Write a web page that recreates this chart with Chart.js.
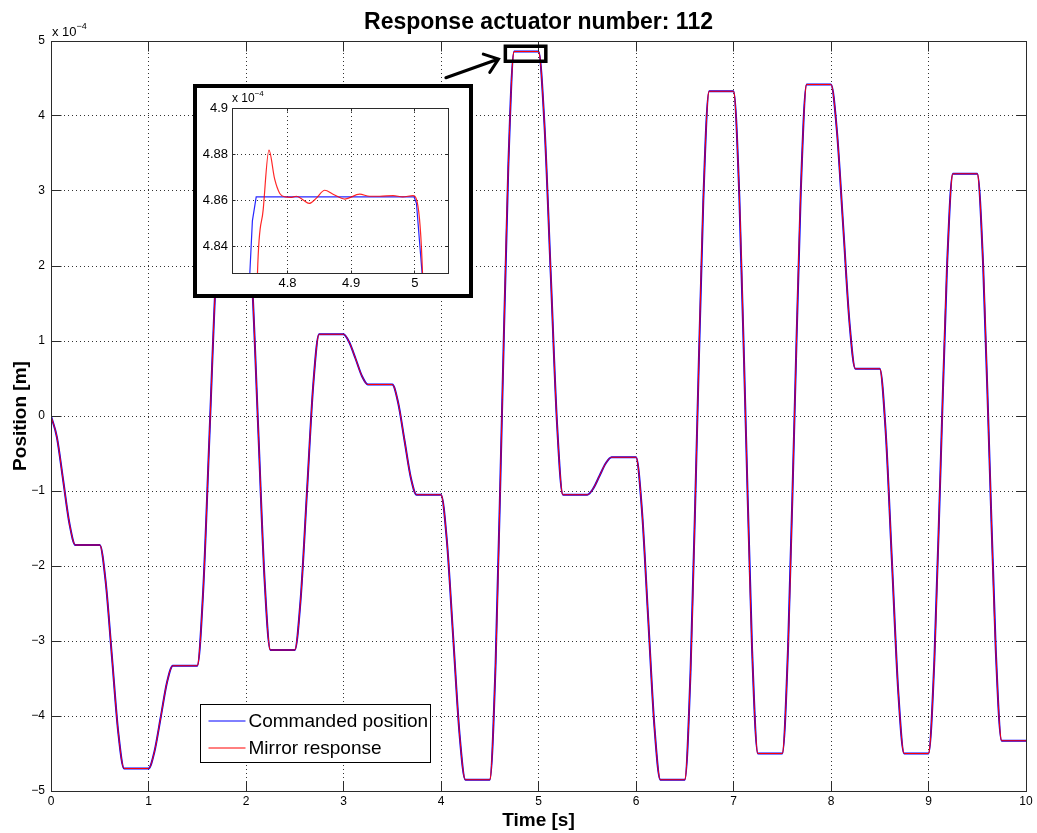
<!DOCTYPE html>
<html>
<head>
<meta charset="utf-8">
<title>Response actuator number: 112</title>
<script src="https://cdn.jsdelivr.net/npm/chart.js@4.4.1/dist/chart.umd.min.js"></script>
<style>
    html, body { margin: 0; padding: 0; background: #fff; }
    #wrap { position: relative; width: 1037px; height: 833px; }
    #mainChart { position: absolute; left: 0; top: 0; }
    #insetBox { position: absolute; left: 193px; top: 84px; width: 280px; height: 214px; box-sizing: border-box; border: 4px solid #000; background: #fff; }
    #insetChart { position: absolute; left: 0; top: 0; }
</style>
</head>
<body>
<div id="wrap">
    <canvas id="mainChart" width="1037" height="833"></canvas>
    <div id="insetBox"><canvas id="insetChart" width="272" height="206"></canvas></div>
</div>
<script>
// Dati (posizioni in unita' di 1e-4 m)
const timeS = [
    0, 0.06, 0.125, 0.19, 0.25,
    0.5, 0.56, 0.625, 0.69, 0.75,
    1, 1.06, 1.125, 1.19, 1.25,
    1.5, 1.56, 1.625, 1.69, 1.75,
    2, 2.06, 2.125, 2.19, 2.25,
    2.5, 2.56, 2.625, 2.69, 2.75,
    3, 3.06, 3.125, 3.19, 3.25,
    3.5, 3.56, 3.625, 3.69, 3.75,
    4, 4.06, 4.125, 4.19, 4.25,
    4.5, 4.56, 4.625, 4.69, 4.75,
    5, 5.06, 5.125, 5.19, 5.25,
    5.5, 5.56, 5.625, 5.69, 5.75,
    6, 6.06, 6.125, 6.19, 6.25,
    6.5, 6.56, 6.625, 6.69, 6.75,
    7, 7.06, 7.125, 7.19, 7.25,
    7.5, 7.56, 7.625, 7.69, 7.75,
    8, 8.06, 8.125, 8.19, 8.25,
    8.5, 8.56, 8.625, 8.69, 8.75,
    9, 9.06, 9.125, 9.19, 9.25,
    9.5, 9.56, 9.625, 9.69, 9.75,
    10
];
const commandedPos = [
    0, -0.28, -0.86, -1.44, -1.72,
    -1.72, -2.20, -3.21, -4.22, -4.70,
    -4.70, -4.48, -4.02, -3.55, -3.33,
    -3.33, -2.35, -0.27, 1.82, 2.80,
    2.80, 1.85, -0.16, -2.17, -3.12,
    -3.12, -2.45, -1.02, 0.42, 1.09,
    1.09, 0.98, 0.76, 0.53, 0.42,
    0.42, 0.18, -0.32, -0.82, -1.05,
    -1.05, -1.66, -2.95, -4.24, -4.85,
    -4.85, -3.30, 0.01, 3.31, 4.86,
    4.86, 3.91, 1.91, -0.10, -1.05,
    -1.05, -0.97, -0.80, -0.63, -0.55,
    -0.55, -1.24, -2.70, -4.16, -4.85,
    -4.85, -3.38, -0.26, 2.86, 4.33,
    4.33, 2.92, -0.09, -3.09, -4.50,
    -4.50, -3.07, -0.04, 2.99, 4.42,
    4.42, 3.81, 2.53, 1.24, 0.63,
    0.63, -0.19, -1.94, -3.68, -4.50,
    -4.50, -3.26, -0.64, 1.99, 3.23,
    3.23, 2.02, -0.55, -3.12, -4.33,
    -4.33
];
// a scala piena la risposta dello specchio coincide con il comando
const mirrorResponse = commandedPos;

const xTicks = [0, 1, 2, 3, 4, 5, 6, 7, 8, 9, 10];
const yTicks = [-5, -4, -3, -2, -1, 0, 1, 2, 3, 4, 5];

// Dati dello zoom (riquadro interno)
const insetCmdTime = [4.736, 4.741, 4.745, 4.751, 4.9988, 5.0025, 5.0113, 5.014];
const insetCmdPos = [4.80, 4.8284, 4.851, 4.8614, 4.8614, 4.8586, 4.8284, 4.81];
const insetRespTime = [4.751, 4.753, 4.762, 4.771, 4.780, 4.788, 4.797, 4.805, 4.814, 4.824, 4.834, 4.8455,
    4.8585, 4.8716, 4.890, 4.9135, 4.929, 4.945, 4.966, 4.981, 4.997, 5.0035, 5.012, 5.0135];
const insetRespPos = [4.80, 4.8284, 4.856, 4.8817, 4.8691, 4.8629, 4.8614, 4.8612, 4.8617, 4.8602, 4.8586, 4.8609,
    4.8643, 4.8626, 4.8605, 4.8626, 4.8617, 4.8617, 4.862, 4.8614, 4.862, 4.8594, 4.8284, 4.81];
const insetXTicks = [4.8, 4.9, 5];
const insetYTicks = [4.84, 4.86, 4.88, 4.9];

// Riquadro evidenziato e freccia (coordinate dati)
const zoomBoxTime = [4.66, 5.075];
const zoomBoxPos = [4.73, 4.93];
const arrowTime = [4.05, 4.59];
const arrowPos = [4.51, 4.76];

const FONT = "'Liberation Sans', Arial, Helvetica, sans-serif";

document.addEventListener("DOMContentLoaded", function () {
    Chart.defaults.font.family = FONT;
    Chart.defaults.color = "#000";
    renderMainChart();
    renderInsetChart();
});

function toPoints(xs, ys) {
    return xs.map((x, i) => ({ x: x, y: ys[i] }));
}

function crisp(v) {
    return Math.round(v - 0.5) + 0.5;
}

function minusLabel(v) {
    return v < 0 ? "\u2212" + (-v) : String(v);
}

// Cornice degli assi con tacche interne (stile MATLAB)
function drawAxesBox(chart, tickLen) {
    const { ctx, chartArea: a, scales } = chart;
    const l = crisp(a.left), r = crisp(a.right), t = crisp(a.top), b = crisp(a.bottom);
    ctx.save();
    ctx.setLineDash([]);
    ctx.strokeStyle = "#2b2b2b";
    ctx.lineWidth = 1;
    ctx.beginPath();
    scales.x.ticks.forEach(tk => {
        const px = crisp(scales.x.getPixelForValue(tk.value));
        ctx.moveTo(px, b); ctx.lineTo(px, b - tickLen);
        ctx.moveTo(px, t); ctx.lineTo(px, t + tickLen);
    });
    scales.y.ticks.forEach(tk => {
        const py = crisp(scales.y.getPixelForValue(tk.value));
        ctx.moveTo(l, py); ctx.lineTo(l + tickLen, py);
        ctx.moveTo(r, py); ctx.lineTo(r - tickLen, py);
    });
    ctx.stroke();
    ctx.strokeRect(l, t, r - l, b - t);
    ctx.restore();
}

// Etichetta "x 10^-4" sopra l'asse y
function drawExponent(ctx, x, y, size, supSize, rise) {
    ctx.save();
    ctx.fillStyle = "#000";
    ctx.textAlign = "left";
    ctx.textBaseline = "alphabetic";
    ctx.font = size + "px " + FONT;
    ctx.fillText("x 10", x, y);
    const w = ctx.measureText("x 10").width;
    ctx.font = supSize + "px " + FONT;
    ctx.fillText("\u22124", x + w, y - rise);
    ctx.restore();
}

const mainDecorations = {
    id: "mainDecorations",
    afterDatasetsDraw(chart) {
        drawAxesBox(chart, 10);
    },
    afterDraw(chart) {
        const { ctx, chartArea: a, scales } = chart;
        const cx = (a.left + a.right) / 2;
        ctx.save();
        ctx.fillStyle = "#000";

        // titolo ed etichette assi
        ctx.textAlign = "center";
        ctx.textBaseline = "alphabetic";
        ctx.font = "bold 23px " + FONT;
        ctx.fillText("Response actuator number: 112", cx, 29);
        ctx.font = "bold 19px " + FONT;
        ctx.fillText("Time [s]", cx, 826);
        ctx.save();
        ctx.translate(26, (a.top + a.bottom) / 2);
        ctx.rotate(-Math.PI / 2);
        ctx.fillText("Position [m]", 0, 0);
        ctx.restore();

        drawExponent(ctx, 52, 36, 13, 9, 7);

        // riquadro sul picco e freccia
        const x1 = scales.x.getPixelForValue(zoomBoxTime[0]);
        const x2 = scales.x.getPixelForValue(zoomBoxTime[1]);
        const y1 = scales.y.getPixelForValue(zoomBoxPos[1]);
        const y2 = scales.y.getPixelForValue(zoomBoxPos[0]);
        ctx.strokeStyle = "#000";
        ctx.lineWidth = 3.5;
        ctx.strokeRect(x1, y1, x2 - x1, y2 - y1);

        const ax = scales.x.getPixelForValue(arrowTime[0]);
        const ay = scales.y.getPixelForValue(arrowPos[0]);
        const bx = scales.x.getPixelForValue(arrowTime[1]);
        const by = scales.y.getPixelForValue(arrowPos[1]);
        const ang = Math.atan2(ay - by, ax - bx);
        ctx.lineWidth = 3;
        ctx.lineCap = "round";
        ctx.lineJoin = "miter";
        ctx.beginPath();
        ctx.moveTo(ax, ay);
        ctx.lineTo(bx, by);
        ctx.moveTo(bx + 16 * Math.cos(ang + 0.65), by + 16 * Math.sin(ang + 0.65));
        ctx.lineTo(bx, by);
        ctx.lineTo(bx + 16 * Math.cos(ang - 0.65), by + 16 * Math.sin(ang - 0.65));
        ctx.stroke();

        // legenda
        const lx = 200.5, ly = 704.5, lw = 230, lh = 58;
        ctx.lineCap = "butt";
        ctx.fillStyle = "#fff";
        ctx.fillRect(lx, ly, lw, lh);
        ctx.lineWidth = 1;
        ctx.strokeStyle = "#000";
        ctx.strokeRect(lx, ly, lw, lh);
        ctx.textAlign = "left";
        ctx.textBaseline = "middle";
        ctx.font = "19px " + FONT;
        chart.data.datasets.forEach((ds, i) => {
            const rowY = ly + 16.5 + i * 27;
            ctx.strokeStyle = ds.borderColor;
            ctx.lineWidth = 1;
            ctx.beginPath();
            ctx.moveTo(lx + 8, rowY);
            ctx.lineTo(lx + 45, rowY);
            ctx.stroke();
            ctx.fillStyle = "#000";
            ctx.fillText(ds.label, lx + 48, rowY + 1);
        });
        ctx.restore();
    }
};

// Grafico principale
function renderMainChart() {
    const ctx = document.getElementById("mainChart").getContext("2d");

    new Chart(ctx, {
        type: "line",
        data: {
            datasets: [{
                label: "Commanded position",
                data: toPoints(timeS, commandedPos),
                borderColor: "#0000ff",
                borderWidth: 2,
                pointRadius: 0,
                cubicInterpolationMode: "monotone",
                order: 2
            }, {
                label: "Mirror response",
                data: toPoints(timeS, mirrorResponse),
                borderColor: "#ff0000",
                borderWidth: 1,
                pointRadius: 0,
                cubicInterpolationMode: "monotone",
                order: 1
            }]
        },
        options: {
            responsive: false,
            animation: false,
            devicePixelRatio: 1,
            events: [],
            layout: { padding: { left: 0, top: 41, right: 11, bottom: 0 } },
            plugins: {
                legend: { display: false },
                title: { display: false },
                tooltip: { enabled: false }
            },
            scales: {
                x: {
                    type: "linear",
                    min: 0,
                    max: 10,
                    afterFit: s => { s.height = 42; },
                    afterBuildTicks: s => { s.ticks = xTicks.map(v => ({ value: v })); },
                    ticks: { autoSkip: false, maxRotation: 0, padding: 3, font: { size: 12 }, callback: v => String(v) },
                    grid: { color: "rgba(0,0,0,0.8)", lineWidth: 1, drawTicks: false },
                    border: { display: true, color: "#2b2b2b", dash: [1, 3] }
                },
                y: {
                    type: "linear",
                    min: -5,
                    max: 5,
                    afterFit: s => { s.width = 51; },
                    afterBuildTicks: s => { s.ticks = yTicks.map(v => ({ value: v })); },
                    ticks: { autoSkip: false, padding: 6, font: { size: 12 }, callback: minusLabel },
                    grid: { color: "rgba(0,0,0,0.8)", lineWidth: 1, drawTicks: false },
                    border: { display: true, color: "#2b2b2b", dash: [1, 3] }
                }
            }
        },
        plugins: [mainDecorations]
    });
}

const insetDecorations = {
    id: "insetDecorations",
    afterDatasetsDraw(chart) {
        drawAxesBox(chart, 3);
    },
    afterDraw(chart) {
        drawExponent(chart.ctx, 35, 14, 12, 8, 6);
    }
};

// Riquadro con lo zoom sul picco a 5 s
function renderInsetChart() {
    const ctx = document.getElementById("insetChart").getContext("2d");

    new Chart(ctx, {
        type: "line",
        data: {
            datasets: [{
                label: "Commanded position",
                data: toPoints(insetCmdTime, insetCmdPos),
                borderColor: "rgba(0,0,255,0.85)",
                borderWidth: 1.2,
                pointRadius: 0,
                order: 2
            }, {
                label: "Mirror response",
                data: toPoints(insetRespTime, insetRespPos),
                borderColor: "rgba(255,0,0,0.85)",
                borderWidth: 1.2,
                pointRadius: 0,
                cubicInterpolationMode: "monotone",
                order: 1
            }]
        },
        options: {
            responsive: false,
            animation: false,
            devicePixelRatio: 1,
            events: [],
            layout: { padding: { left: 0, top: 20, right: 21, bottom: 0 } },
            plugins: {
                legend: { display: false },
                title: { display: false },
                tooltip: { enabled: false }
            },
            scales: {
                x: {
                    type: "linear",
                    min: 4.713,
                    max: 5.052,
                    afterFit: s => { s.height = 21; },
                    afterBuildTicks: s => { s.ticks = insetXTicks.map(v => ({ value: v })); },
                    ticks: { autoSkip: false, maxRotation: 0, padding: 3, font: { size: 13 }, callback: v => String(v) },
                    grid: { color: "rgba(0,0,0,0.8)", lineWidth: 1, drawTicks: false },
                    border: { display: true, color: "#2b2b2b", dash: [1, 3] }
                },
                y: {
                    type: "linear",
                    min: 4.8284,
                    max: 4.9,
                    afterFit: s => { s.width = 35; },
                    afterBuildTicks: s => { s.ticks = insetYTicks.map(v => ({ value: v })); },
                    ticks: { autoSkip: false, padding: 4, font: { size: 13 }, callback: v => String(v) },
                    grid: { color: "rgba(0,0,0,0.8)", lineWidth: 1, drawTicks: false },
                    border: { display: true, color: "#2b2b2b", dash: [1, 3] }
                }
            }
        },
        plugins: [insetDecorations]
    });
}
</script>
</body>
</html>
